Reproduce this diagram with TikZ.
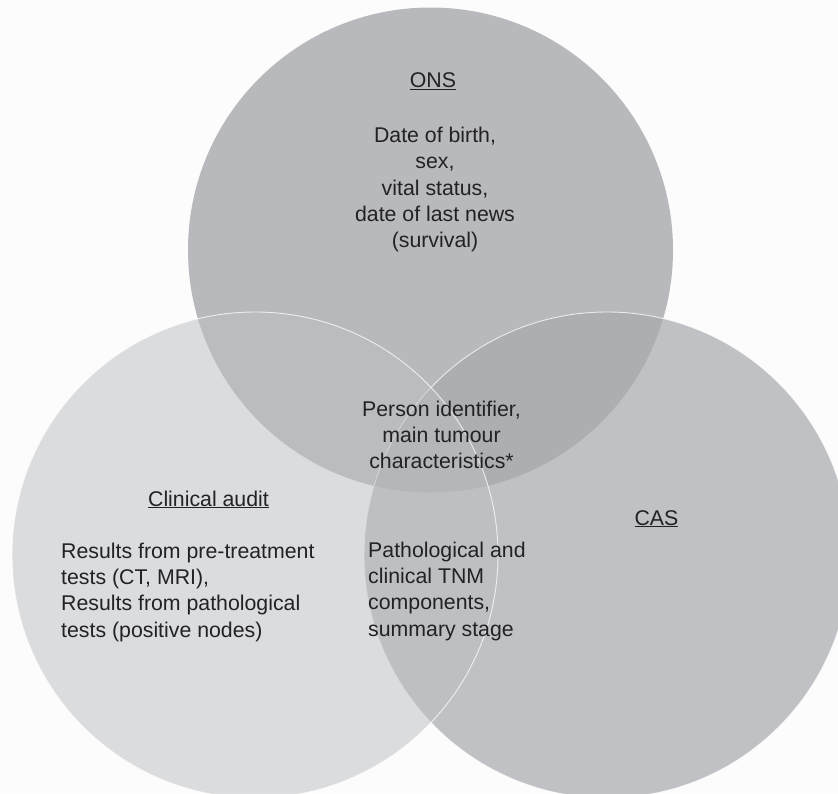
\documentclass[tikz,border=0pt]{standalone}
\usepackage{fontspec}
\setmainfont{Liberation Sans}
\definecolor{pagebg}{RGB}{252,252,252}
\definecolor{onsgray}{RGB}{184,185,189}
\definecolor{casgray}{RGB}{168,170,174}
\definecolor{auditgray}{RGB}{189,191,195}
\definecolor{inkgray}{RGB}{34,34,36}
\tikzset{
  label/.style={inner sep=0pt, text=inkgray, font=\fontsize{21.3}{26.3}\selectfont},
  setfill/.style={fill=#1, draw=white, draw opacity=0.75, line width=0.9pt}
}
\begin{document}
\begin{tikzpicture}[x=1pt,y=-1pt]
  \useasboundingbox (0,0) rectangle (838,793);
  \fill[pagebg] (0,0) rectangle (838,793);
  \begin{scope}
    \clip (0,0) rectangle (838,793);
    \fill[onsgray] (430.5,250) circle[radius=242.5pt];
    \path[setfill=casgray, fill opacity=0.716] (607,555) circle[radius=243pt];
    \path[setfill=auditgray, fill opacity=0.51] (255,555) circle[radius=243pt];
  \end{scope}
  % set titles
  \node[label, anchor=base] (onstitle) at (433,87.5) {\underline{ONS}};
  \node[label, anchor=base] (audittitle) at (208.5,506) {\underline{Clinical audit}};
  \node[label, anchor=base] (castitle) at (656.5,525) {\underline{CAS}};
  % set contents
  \node[label, anchor=north, align=center] (onsdata) at (435,127)
    {Date of birth,\\sex,\\vital status,\\date of last news\\(survival)};
  \node[label, anchor=north, align=center] (core) at (441.5,400.5)
    {Person identifier,\\main tumour\\characteristics*};
  \node[label, anchor=north west, align=left] (auditdata) at (61,542.5)
    {Results from pre-treatment\\tests (CT, MRI),\\Results from pathological\\tests (positive nodes)};
  \node[label, anchor=north west, align=left] (casdata) at (368,541.5)
    {Pathological and\\clinical TNM\\components,\\summary stage};
\end{tikzpicture}
\end{document}
